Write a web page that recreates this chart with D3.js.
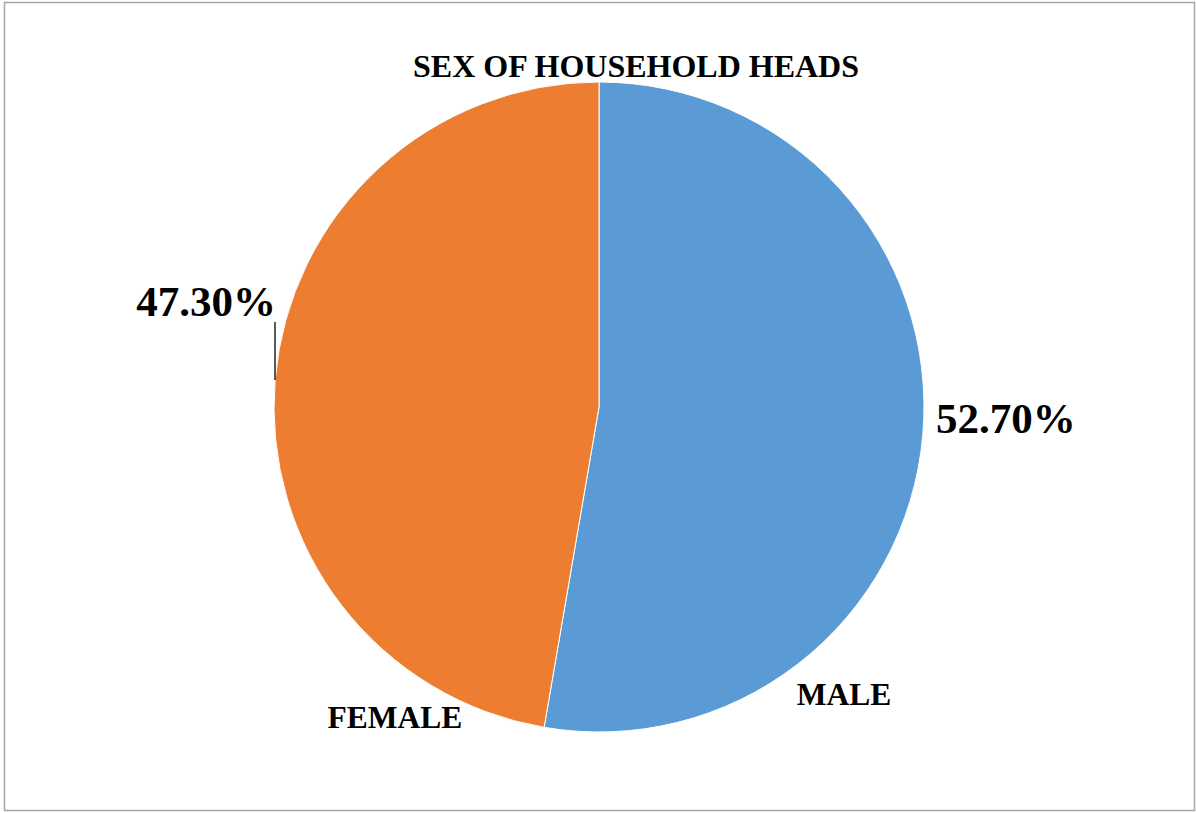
<!DOCTYPE html>
<html>
<head>
<meta charset="utf-8">
<script src="https://cdn.jsdelivr.net/npm/d3@7"></script>
<style>
  html, body { margin: 0; padding: 0; background: #fff; }
  svg { display: block; }
  text { font-family: "Liberation Serif", "Times New Roman", serif; font-weight: bold; fill: #000; }
</style>
</head>
<body>
<svg id="chart" width="1196" height="813"></svg>
<script>
// Household head sex distribution (percent)
const categories = ["MALE", "FEMALE"];
const values = [52.7, 47.3];
const valueLabels = ["52.70%", "47.30%"];
const colors = ["#5B9BD5", "#ED7D31"];
const title = "SEX OF HOUSEHOLD HEADS";

const width = 1196, height = 813;
const cx = 599, cy = 407, radius = 325;

const svg = d3.select("#chart");

// Outer frame
svg.append("rect")
  .attr("x", 4.5).attr("y", 2.5)
  .attr("width", 1190).attr("height", 808)
  .attr("fill", "#fff")
  .attr("stroke", "#a6a6a6")
  .attr("stroke-width", 1.5);

const data = categories.map((c, i) => ({ name: c, value: values[i], label: valueLabels[i], color: colors[i] }));

const pie = d3.pie().sort(null).value(d => d.value);
const arc = d3.arc().innerRadius(0).outerRadius(radius);
const arcs = pie(data);

const g = svg.append("g").attr("transform", `translate(${cx},${cy})`);

g.selectAll("path.slice")
  .data(arcs)
  .join("path")
  .attr("class", "slice")
  .attr("d", arc)
  .attr("fill", d => d.data.color)
  .attr("stroke", "#fff")
  .attr("stroke-width", 1);

// Title
svg.append("text")
  .attr("x", 636).attr("y", 77)
  .attr("text-anchor", "middle")
  .attr("font-size", 32)
  .text(title);

// MALE value to the right of the pie
svg.append("text")
  .attr("x", cx + radius + 12).attr("y", 433)
  .attr("text-anchor", "start")
  .attr("font-size", 43)
  .text(arcs[0].data.label);

// FEMALE value upper-left with a leader line down to the edge
const leaderX = cx - radius + 1;
const leaderBottomY = cy - 27;
svg.append("line")
  .attr("x1", leaderX).attr("x2", leaderX)
  .attr("y1", 322).attr("y2", leaderBottomY)
  .attr("stroke", "#000").attr("stroke-width", 1.3);
svg.append("text")
  .attr("x", leaderX + 1).attr("y", 316)
  .attr("text-anchor", "end")
  .attr("font-size", 43)
  .text(arcs[1].data.label);

// Category labels near the bottom of each slice
svg.append("text")
  .attr("x", 844).attr("y", 705)
  .attr("text-anchor", "middle")
  .attr("font-size", 31.5)
  .text(arcs[0].data.name);
svg.append("text")
  .attr("x", 395).attr("y", 728)
  .attr("text-anchor", "middle")
  .attr("font-size", 31.5)
  .text(arcs[1].data.name);
</script>
</body>
</html>
